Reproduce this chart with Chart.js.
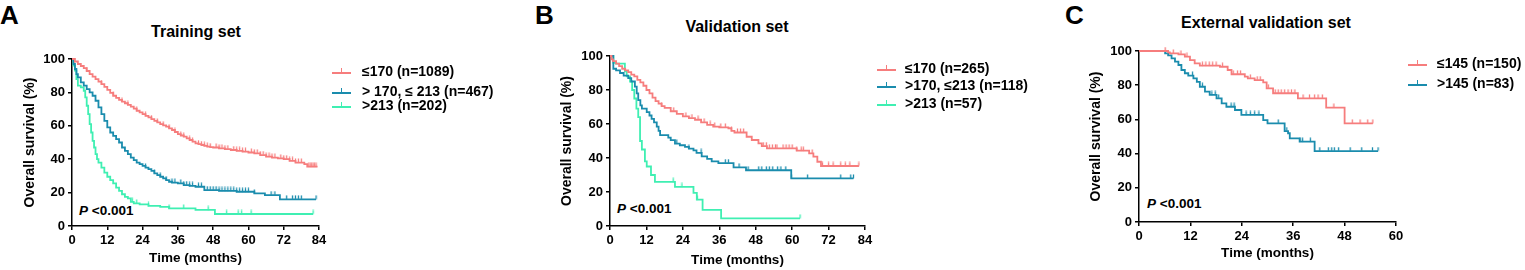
<!DOCTYPE html>
<html>
<head>
<meta charset="utf-8">
<title>Overall survival</title>
<script src="https://cdn.jsdelivr.net/npm/chart.js@4"></script>
<style>
  body { margin: 0; background: #fff; font-family: "Liberation Sans", Arial, sans-serif; }
  #page { position: relative; width: 1525px; height: 270px; overflow: hidden; }
  #page canvas { position: absolute; top: 0; }
  .lbl { position: absolute; font-weight: bold; color: #000; white-space: nowrap; line-height: 1; }
  .letter { font-size: 26px; top: 2px; }
  .title { font-size: 16px; transform: translate(-50%, -50%); }
  .pval { font-size: 13.5px; transform: translateY(-50%); }
  .leg { position: absolute; font-size: 14px; font-weight: bold; white-space: nowrap; transform: translateY(-50%); line-height: 1; display: flex; align-items: center; }
  .mk { position: relative; display: inline-block; width: 19px; height: 8px; }
  .mk b { position: absolute; left: 0; right: 0; top: 5px; height: 2px; }
  .mk s { position: absolute; left: 9px; top: 1px; width: 1px; height: 5px; }
</style>
</head>
<body>
<div id="page">
  <div class="lbl letter" style="left:0px">A</div>
  <div class="lbl letter" style="left:535px">B</div>
  <div class="lbl letter" style="left:1065px">C</div>

  <div class="lbl title" style="left:196px; top:32px">Training set</div>
  <div class="lbl title" style="left:737px; top:27px">Validation set</div>
  <div class="lbl title" style="left:1266px; top:23px">External validation set</div>

  <div class="lbl pval" style="left:79px; top:211px"><i>P</i> &lt;0.001</div>
  <div class="lbl pval" style="left:617px; top:209px"><i>P</i> &lt;0.001</div>
  <div class="lbl pval" style="left:1147px; top:204px"><i>P</i> &lt;0.001</div>

  <canvas id="chart-train" width="340" height="270" style="left:0px"></canvas>
  <canvas id="chart-val" width="346" height="270" style="left:540px"></canvas>
  <canvas id="chart-ext" width="347" height="270" style="left:1070px"></canvas>
</div>

<script>
// ---------- cores ----------
const RED = "#F67D7D";
const BLUE = "#1A8CAD";
const GREEN = "#3FEFB2";

// ---------- Training set: [meses, sobrevida %] ----------
const trainLow = [[0,100],[1,98.5],[2,97],[3,95.8],[4,94.5],[5,92.8],[6,91],[7,89.5],[8,88],[9,86.5],[10,85],[11,83.3],
  [12,81.5],[13,79.7],[14,78],[15,76.7],[16,75.5],[17,74.5],[18,73.5],[19,72.5],[20,71.5],[21,70.3],[22,69],[23,68],
  [24,67],[25,66],[26,65],[27,64],[28,63],[29,62],[30,61],[31,60.3],[32,59.5],[33,58.5],[34,57.5],[35,56.3],[36,55],
  [37,54.2],[38,53.5],[39,52.5],[40,51.5],[41,50.5],[42,49.5],[43,49],[44,48.5],[45,48],[46,47.5],[47,47.2],[48,47],
  [50,46.5],[52,46],[54,45.5],[56,45],[58,44.5],[60,44],[62,43.5],[64,42.5],[66,41.5],[68,41],[70,40.5],[72,40],
  [74,39],[76,38],[79,37],[80,35.5],[83.5,35.5]];
const trainMid = [[0,100],[0.5,97],[1,94],[1.5,91],[2,89],[3,86],[4,84],[5,82],[6,80],[7,78],[8,75],[9,71],[10,67],
  [11,63],[12,59],[13,56],[14,54],[15,52],[16,50],[17,47],[18,45],[19,43],[20,41],[21,39.5],[22,38],[23,37],[24,36],
  [25,35],[26,34],[27,33],[28,31.5],[29,30.5],[30,29.5],[31,28.5],[32,27.5],[33,26.5],[34,26],[36,25.5],[38,24.5],
  [40,24],[42,23.5],[45,21.5],[50,21],[56,20.5],[62,19.5],[65.6,18.5],[70.7,16],[83,16]];
const trainHigh = [[0,100],[0.5,96],[1,93],[1.5,88],[2,84],[3,83],[4,81],[4.5,77],[5,72],[5.5,67],[6,61],[6.5,56],
  [7,51],[7.5,47],[8,43],[8.5,40],[9,38],[10,35],[11,32],[12,29.5],[13,27.5],[14,25.5],[15,23],[16,21],[17,19],
  [18,17.5],[19,16.5],[20,14.5],[21,13.5],[23,13],[26,12],[30,11.5],[33,10.5],[42,9.6],[48.6,7.2],[82,7.2]];
const trainLowCens = [5,10,14,17,19,22,25,27,29,31,33,35,37,38,40,41,43,44,45,46,47,49,50,51,52,53,55,56,57,58,59,
  61,62,63,64,65,66,67,68,69,71,72,73,74,75,76,77,78,80.5,81,81.5,82,82.5,83];
const trainMidCens = [25,28,30,32,34,35,37,38,39,40,41,43,44,46,47,48,49,50,51,52,53,54,55,56,57,58,59,60,62,67.7,
  69,73,75,76,77,78,83];
const trainHighCens = [20.5,22,26,33,38,46.3,52.6,56.5,57.7,60.9,82];
const trainLabels = ["\u2264170 (n=1089)", "> 170, \u2264 213 (n=467)", ">213 (n=202)"];

// ---------- Validation set ----------
const valLow = [[0,100],[0.5,98],[1,97],[2,95.5],[3,94],[4,92.5],[5,91.5],[6,90.5],[7,89],[8,88],[9,86],[10,84.5],
  [11,82.5],[12,80],[13,78],[14,75.5],[15,73.5],[16,72],[17,70.5],[18,69.5],[20,67.5],[22,66],[24,64.5],[26,63.5],
  [28,62.5],[30,61],[32,59.5],[34,58.5],[36,58],[39,57.5],[40,56],[41,55],[45,52.5],[46.7,50.6],[48.9,48.6],[50,47],
  [51.7,45.7],[61.5,44.3],[65.6,42.7],[67,40.8],[68.3,37.8],[69.5,35.3],[82,35.3]];
const valMid = [[0,100],[1.1,92.5],[2,91.5],[3.3,90],[4.5,88.5],[6,87],[7,85],[8.2,82],[8.8,78],[9.3,74],[10,71],
  [10.5,69],[12.1,67],[13,65],[13.7,63],[14.5,61],[15.4,58.5],[16,56],[16.5,53.5],[19.2,52],[20,50.5],[21.4,48.5],
  [23,47.5],[24.7,46.5],[26,45.5],[27.5,44.5],[28.5,43],[30.2,41],[32,39.5],[33.5,38],[35.7,37],[40.7,34.5],
  [44.8,32.8],[59.7,28],[80.2,28]];
const valHigh = [[0,100],[1.1,96],[2,95.5],[4.9,91],[5.5,88],[6.6,85],[7.3,80],[8,75],[8.7,69],[9.3,64],[9.9,50],
  [10.5,45],[11.5,38],[12.1,35],[13.5,30],[14.8,26],[21.4,23],[27.5,19.5],[28.6,15.5],[30.5,9.5],[36.6,4.5],[62.6,4.5]];
const valLowCens = [17,21,25,27,29,31,33,34.5,36.5,38,40,42,43,44,50.5,51.5,52.5,53.5,54.5,55,57,58,59,60,61.5,63,
  63.7,66.6,70,72,73.5,76,77.5,79,82];
const valMidCens = [22,26,30,38,39,42.5,45.5,49,50,51.5,52.5,53.6,55.2,56.3,57.9,59.8,65.1,76,79.3,80.2];
const valHighCens = [20.8,23.7,28.8,62.6];
const valLabels = ["\u2264170 (n=265)", ">170, \u2264213 (n=118)", ">213 (n=57)"];

// ---------- External validation set ----------
const extLow = [[0,100],[6.8,99.2],[7.2,98.6],[9.2,98],[10.7,96.7],[11.9,94.7],[13,92.8],[14.2,91.4],[18.9,90.8],
  [20.7,88.9],[21.6,86.4],[24.7,85],[25.4,84],[27,83],[29,81.7],[29.8,78.2],[31.3,75.3],[37.1,72.3],[43.7,66.9],
  [48,57.7],[54.6,57.7]];
const extHigh = [[4.9,100],[6.1,98.6],[6.8,97.5],[7.6,95.7],[8.4,93.8],[9.2,91.8],[9.9,88.9],[10.7,87],[11.5,85.6],
  [12.7,84],[13.5,82],[14.2,79.1],[15.4,76.2],[16.5,74.3],[18.1,72.3],[19.3,69.4],[20.4,67.4],[22.4,65.5],[23.9,62.6],
  [29,59.6],[30,57.7],[34,53.2],[34.8,51.9],[35.2,48.9],[37.5,47],[41,41.5],[55.8,41.5]];
const extLowCens = [6.1,8,9.8,11.2,14.8,15.6,16.4,17.2,18,19.5,22,23,23.7,26,27.6,28.3,30.2,31.8,32.5,33.2,34,34.8,
  35.6,36.4,38.3,39.8,41,41.8,42.8,45.5,49.8,51.6,53.4,54.6];
const extHighCens = [12.5,14.8,17,17.8,18.6,21.5,22.2,25,26,27,28,32.5,34.5,37.6,38.2,40,42.2,44.2,45,45.6,46.6,
  49.3,52,54.5,55.8];
const extLabels = ["\u2264145 (n=150)", ">145 (n=83)"];

// ---------- utilitários ----------
const FONT = '"Liberation Sans", Arial, sans-serif';

function tickImage(color) {
  const c = document.createElement("canvas");
  c.width = 3; c.height = 9;
  const g = c.getContext("2d");
  g.strokeStyle = color; g.lineWidth = 1.3;
  g.beginPath(); g.moveTo(1.5, 0.5); g.lineTo(1.5, 4.5); g.stroke();
  return c;
}

// sobrevida no instante t (última etapa antes de t)
function survAt(curve, t) {
  let s = curve[0][1];
  curve.forEach(([x, y]) => { if (x <= t) s = y; });
  return s;
}

function curveSets(curve, cens, color) {
  return [
    {
      data: curve.map(([x, y]) => ({ x, y })),
      borderColor: color, borderWidth: 1.8, pointRadius: 0,
      stepped: true, fill: false, clip: 4,
    },
    {
      data: cens.map((t) => ({ x: t, y: survAt(curve, t) })),
      showLine: false, pointStyle: tickImage(color), pointRadius: 3,
      borderColor: color, backgroundColor: color, clip: 6,
    },
  ];
}

function axisTitle(text, size, pad) {
  return { display: true, text, color: "#000", font: { family: FONT, size, weight: "bold" }, padding: pad };
}

function makePanel(cfg) {
  const ctx = document.getElementById(cfg.id).getContext("2d");
  const datasets = [];
  cfg.curves.forEach((c) => datasets.push(...curveSets(c.data, c.cens, c.color)));
  const tickFont = { family: FONT, size: 13, weight: "bold" };
  const grid = { display: true, drawOnChartArea: false, drawTicks: true, tickLength: 4, color: "#000", lineWidth: 1.5 };
  const border = { display: true, color: "#000", width: 1.5 };

  new Chart(ctx, {
    type: "line",
    data: { datasets },
    options: {
      responsive: false,
      animation: false,
      events: [],
      layout: { padding: { left: 0, top: cfg.top, right: cfg.padRight, bottom: 0 } },
      plugins: { legend: { display: false }, tooltip: { enabled: false } },
      scales: {
        x: {
          type: "linear", min: 0, max: cfg.xMax,
          ticks: { stepSize: 12, color: "#000", font: tickFont, padding: 3 },
          grid, border,
          title: axisTitle("Time (months)", 13.5, { top: 0, bottom: cfg.xTitlePad }),
          afterFit: (s) => { s.height = cfg.xHeight; },
        },
        y: {
          type: "linear", min: 0, max: 100,
          ticks: { stepSize: 20, color: "#000", font: tickFont, padding: 3 },
          grid, border,
          title: axisTitle("Overall survival (%)", 14, { top: cfg.yTitlePad, bottom: 0 }),
          afterFit: (s) => { s.width = cfg.yWidth; },
        },
      },
    },
  });

  // legenda em HTML
  const page = document.getElementById("page");
  cfg.labels.forEach((txt, i) => {
    const el = document.createElement("div");
    el.className = "leg";
    el.style.left = cfg.legX + "px";
    el.style.top = cfg.legY[i] + "px";
    const color = cfg.curves[i].color;
    el.innerHTML = `<span class="mk" style="margin-right:${cfg.legGap}px"><b style="background:${color}"></b><s style="background:${color}"></s></span><span>${txt}</span>`;
    page.appendChild(el);
  });
}

makePanel({
  id: "chart-train", top: 59, xHeight: 44, yWidth: 72, padRight: 21, xMax: 84,
  yTitlePad: 22, xTitlePad: 4,
  curves: [
    { data: trainLow, cens: trainLowCens, color: RED },
    { data: trainMid, cens: trainMidCens, color: BLUE },
    { data: trainHigh, cens: trainHighCens, color: GREEN },
  ],
  labels: trainLabels, legX: 332, legGap: 11, legY: [71, 91, 105],
});

makePanel({
  id: "chart-val", top: 56, xHeight: 44, yWidth: 70, padRight: 21, xMax: 84,
  yTitlePad: 19, xTitlePad: 2,
  curves: [
    { data: valLow, cens: valLowCens, color: RED },
    { data: valMid, cens: valMidCens, color: BLUE },
    { data: valHigh, cens: valHighCens, color: GREEN },
  ],
  labels: valLabels, legX: 877, legGap: 9, legY: [68, 85, 103],
});

makePanel({
  id: "chart-ext", top: 51, xHeight: 48, yWidth: 69, padRight: 21, xMax: 60,
  yTitlePad: 18, xTitlePad: 8.5,
  curves: [
    { data: extLow, cens: extLowCens, color: RED },
    { data: extHigh, cens: extHighCens, color: BLUE },
  ],
  labels: extLabels, legX: 1408, legGap: 10, legY: [63, 83],
});
</script>
</body>
</html>
